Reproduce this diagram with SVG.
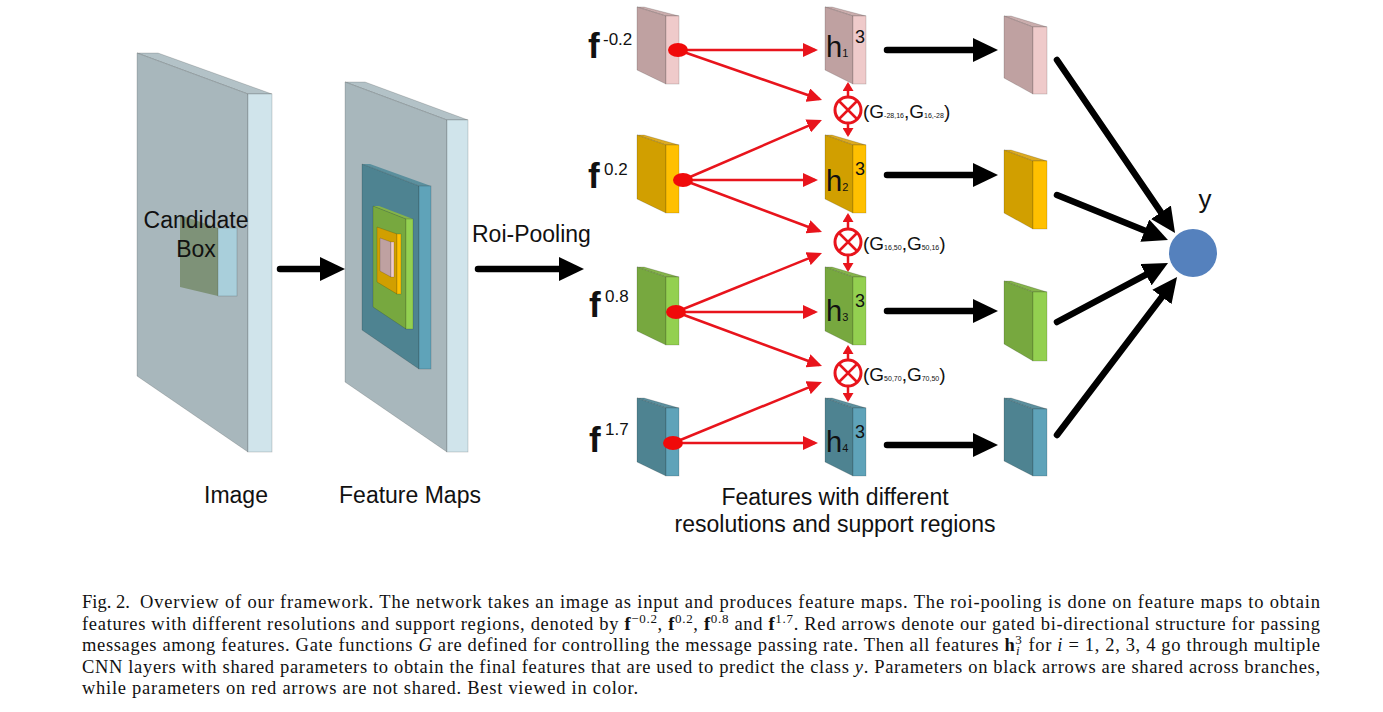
<svg xmlns="http://www.w3.org/2000/svg" width="1383" height="712" viewBox="0 0 1383 712">
<defs>
<style>
.lbl{font-family:"Liberation Sans",Arial,sans-serif;fill:#111}
.cap{font-family:"Liberation Serif","Times New Roman",serif;font-size:18.5px;fill:#111}
.edge{stroke:#000;stroke-opacity:0.22;stroke-width:0.7}
.blk{stroke:#000;stroke-width:6.5;stroke-linecap:round;fill:none}
.red{stroke:#e8141c;stroke-width:2.5;fill:none}
.dot{fill:#f00a0a}
.gate{fill:#fff;stroke:#e8141c;stroke-width:3}
.pkF{fill:#bfa1a1}.pkS{fill:#efcaca}.pkT{fill:#caadad}
.gdF{fill:#d19f00}.gdS{fill:#ffc000}.gdT{fill:#dcaa20}
.grF{fill:#77a83f}.grS{fill:#93d050}.grT{fill:#84b34a}
.tlF{fill:#4e8391}.tlS{fill:#5fa3b9}.tlT{fill:#5b8f9d}
.slF{fill:#a8b7bc}.slS{fill:#d0e4eb}.slT{fill:#b3c2c7}
</style>
<marker id="bh" markerUnits="userSpaceOnUse" viewBox="0 0 25 24" refX="15" refY="12" markerWidth="25" markerHeight="24" orient="auto"><path d="M0,0 L25,12 L0,24 Z" fill="#000"/></marker>
<marker id="rh" markerUnits="userSpaceOnUse" viewBox="0 0 15 14" refX="12" refY="7" markerWidth="15" markerHeight="14" orient="auto"><path d="M0,0 L15,7 L0,14 Z" fill="#e8141c"/></marker>
<marker id="rs" markerUnits="userSpaceOnUse" viewBox="0 0 9 11" refX="7" refY="5.5" markerWidth="9" markerHeight="11" orient="auto"><path d="M0,0 L9,5.5 L0,11 Z" fill="#e8141c"/></marker>
</defs>
<rect width="1383" height="712" fill="#fff"/>

<!-- Image slab -->
<g id="image">
<path class="slT edge" d="M137,53 L158,53 L272,94 L248,94 Z"/>
<path class="slF edge" d="M137,53 L248,94 L248,452 L137,376 Z"/>
<rect class="slS edge" x="248" y="94" width="24" height="358"/>
<g id="candidate-box">
<path d="M180,215 L218,228 L218,296 L180,287 Z" fill="#7e9278"/>
<rect x="218" y="228" width="19" height="68" fill="#a9cfdb" class="edge"/>
<text class="lbl" font-size="23" text-anchor="middle" x="196" y="228">Candidate</text>
<text class="lbl" font-size="23" text-anchor="middle" x="196" y="257">Box</text>
</g>
<text class="lbl" font-size="23" text-anchor="middle" x="236" y="503">Image</text>
</g>

<!-- Feature maps slab -->
<g id="feature-maps">
<path class="slT edge" d="M345,82 L365,82 L468,120 L447,120 Z"/>
<path class="slF edge" d="M345,82 L447,120 L447,452 L345,382 Z"/>
<rect class="slS edge" x="447" y="120" width="21" height="332"/>
<path class="tlT" d="M362,164 L370,164 L431,186 L419,186 Z"/>
<path class="tlF edge" d="M362,164 L419,186 L419,369 L362,330 Z"/>
<rect class="tlS edge" x="419" y="186" width="12" height="183"/>
<path class="grT" d="M373,206 L379,206 L413,219 L406,219 Z"/>
<path class="grF edge" d="M373,206 L406,219 L406,329 L373,307 Z"/>
<rect class="grS edge" x="406" y="219" width="7" height="110"/>
<path class="gdF edge" d="M377,227 L397,234 L397,294 L377,282 Z"/>
<rect class="gdS edge" x="397" y="234" width="4" height="60"/>
<path class="pkF edge" d="M380,238 L391,242 L391,277 L380,271 Z"/>
<rect class="pkS edge" x="391" y="242" width="3" height="35"/>
<text class="lbl" font-size="23" text-anchor="middle" x="410" y="503">Feature Maps</text>
</g>

<text class="lbl" font-size="23" x="472" y="242">Roi-Pooling</text>

<!-- f blocks -->
<g id="f-m02">
<path class="pkT edge" d="M637,7 L644,7 L679,16 L666,16 Z"/>
<path class="pkF edge" d="M637,7 L666,16 L666,84 L637,70 Z"/>
<rect class="pkS edge" x="666" y="16" width="13" height="68"/>
<text class="lbl" font-weight="bold" font-size="35" x="588" y="58">f</text>
<text class="lbl" font-size="17" x="603" y="45">-0.2</text>
</g>
<g id="f-02">
<path class="gdT edge" d="M637,135 L644,135 L679,145 L666,145 Z"/>
<path class="gdF edge" d="M637,135 L666,145 L666,213 L637,199 Z"/>
<rect class="gdS edge" x="666" y="145" width="13" height="68"/>
<text class="lbl" font-weight="bold" font-size="35" x="588" y="188">f</text>
<text class="lbl" font-size="17" x="604" y="175">0.2</text>
</g>
<g id="f-08">
<path class="grT edge" d="M637,267 L644,267 L679,277 L666,277 Z"/>
<path class="grF edge" d="M637,267 L666,277 L666,345 L637,331 Z"/>
<rect class="grS edge" x="666" y="277" width="13" height="68"/>
<text class="lbl" font-weight="bold" font-size="35" x="589" y="317">f</text>
<text class="lbl" font-size="17" x="605" y="302">0.8</text>
</g>
<g id="f-17">
<path class="tlT edge" d="M637,398 L644,398 L679,408 L666,408 Z"/>
<path class="tlF edge" d="M637,398 L666,408 L666,476 L637,462 Z"/>
<rect class="tlS edge" x="666" y="408" width="13" height="68"/>
<text class="lbl" font-weight="bold" font-size="35" x="589" y="452">f</text>
<text class="lbl" font-size="17" x="605" y="435">1.7</text>
</g>

<!-- connectors -->
<g id="connectors">
<line class="blk" x1="280" y1="269" x2="335" y2="269" marker-end="url(#bh)"/>
<line class="blk" x1="478" y1="269" x2="574" y2="269" marker-end="url(#bh)"/>
<line class="blk" x1="887" y1="50" x2="988" y2="50" marker-end="url(#bh)"/>
<line class="blk" x1="887" y1="175" x2="988" y2="175" marker-end="url(#bh)"/>
<line class="blk" x1="887" y1="311" x2="988" y2="311" marker-end="url(#bh)"/>
<line class="blk" x1="887" y1="445" x2="988" y2="445" marker-end="url(#bh)"/>
<line class="blk" x1="1057" y1="60" x2="1169.4" y2="224.7" marker-end="url(#bh)"/>
<line class="blk" x1="1057" y1="195" x2="1158.7" y2="236.2" marker-end="url(#bh)"/>
<line class="blk" x1="1057" y1="322" x2="1159.2" y2="267.7" marker-end="url(#bh)"/>
<line class="blk" x1="1057" y1="435" x2="1171" y2="285" marker-end="url(#bh)"/>

<line class="red" x1="678" y1="50" x2="815" y2="50" marker-end="url(#rh)"/>
<line class="red" x1="678" y1="50" x2="819.2" y2="99" marker-end="url(#rh)"/>
<line class="red" x1="683" y1="180" x2="819.2" y2="121.2" marker-end="url(#rh)"/>
<line class="red" x1="683" y1="180" x2="815" y2="180" marker-end="url(#rh)"/>
<line class="red" x1="683" y1="180" x2="819.2" y2="231" marker-end="url(#rh)"/>
<line class="red" x1="676" y1="312" x2="819.2" y2="254.1" marker-end="url(#rh)"/>
<line class="red" x1="676" y1="312" x2="815" y2="312" marker-end="url(#rh)"/>
<line class="red" x1="676" y1="312" x2="819.2" y2="365" marker-end="url(#rh)"/>
<line class="red" x1="673" y1="443" x2="819.2" y2="383.1" marker-end="url(#rh)"/>
<line class="red" x1="673" y1="443" x2="815" y2="443" marker-end="url(#rh)"/>

<line class="red" x1="848" y1="97" x2="848" y2="84" marker-end="url(#rs)"/>
<line class="red" x1="848" y1="123" x2="848" y2="135" marker-end="url(#rs)"/>
<line class="red" x1="848" y1="229" x2="848" y2="215" marker-end="url(#rs)"/>
<line class="red" x1="848" y1="255" x2="848" y2="270" marker-end="url(#rs)"/>
<line class="red" x1="848" y1="360" x2="848" y2="347" marker-end="url(#rs)"/>
<line class="red" x1="848" y1="386" x2="848" y2="400" marker-end="url(#rs)"/>
</g>

<!-- dots on f blocks -->
<g id="f-ports">
<ellipse class="dot" cx="678" cy="50" rx="10" ry="7"/>
<ellipse class="dot" cx="683" cy="180" rx="10" ry="7"/>
<ellipse class="dot" cx="676" cy="312" rx="10" ry="7"/>
<ellipse class="dot" cx="673" cy="443" rx="10" ry="7"/>
</g>

<!-- h blocks -->
<g id="h1">
<path class="pkT edge" d="M825,7 L832,7 L866,16 L853,16 Z"/>
<path class="pkF edge" d="M825,7 L853,16 L853,84 L825,70 Z"/>
<rect class="pkS edge" x="853" y="16" width="13" height="68"/>
<text class="lbl" font-size="29" x="826" y="57">h<tspan font-size="11">1</tspan></text>
<text class="lbl" font-size="18" x="855" y="43">3</text>
</g>
<g id="h2">
<path class="gdT edge" d="M825,135 L832,135 L866,145 L853,145 Z"/>
<path class="gdF edge" d="M825,135 L853,145 L853,213 L825,199 Z"/>
<rect class="gdS edge" x="853" y="145" width="13" height="68"/>
<text class="lbl" font-size="29" x="826" y="191">h<tspan font-size="11">2</tspan></text>
<text class="lbl" font-size="18" x="855" y="175">3</text>
</g>
<g id="h3">
<path class="grT edge" d="M825,267 L832,267 L866,277 L853,277 Z"/>
<path class="grF edge" d="M825,267 L853,277 L853,345 L825,331 Z"/>
<rect class="grS edge" x="853" y="277" width="13" height="68"/>
<text class="lbl" font-size="29" x="826" y="321">h<tspan font-size="11">3</tspan></text>
<text class="lbl" font-size="18" x="855" y="307">3</text>
</g>
<g id="h4">
<path class="tlT edge" d="M825,398 L832,398 L866,408 L853,408 Z"/>
<path class="tlF edge" d="M825,398 L853,408 L853,476 L825,462 Z"/>
<rect class="tlS edge" x="853" y="408" width="13" height="68"/>
<text class="lbl" font-size="29" x="826" y="452">h<tspan font-size="11">4</tspan></text>
<text class="lbl" font-size="18" x="855" y="438">3</text>
</g>

<!-- gates -->
<g id="gate1">
<circle class="gate" cx="848" cy="110" r="13"/>
<path class="red" stroke-width="3" d="M839,101 L857,119 M857,101 L839,119"/>
<text class="lbl" x="863" y="118" font-size="19">(G<tspan font-size="7">-28,16</tspan>,G<tspan font-size="7">16,-28</tspan>)</text>
</g>
<g id="gate2">
<circle class="gate" cx="848" cy="242" r="13"/>
<path class="red" stroke-width="3" d="M839,233 L857,251 M857,233 L839,251"/>
<text class="lbl" x="863" y="250" font-size="19">(G<tspan font-size="7">16,50</tspan>,G<tspan font-size="7">50,16</tspan>)</text>
</g>
<g id="gate3">
<circle class="gate" cx="848" cy="373" r="13"/>
<path class="red" stroke-width="3" d="M839,364 L857,382 M857,364 L839,382"/>
<text class="lbl" x="863" y="381" font-size="19">(G<tspan font-size="7">50,70</tspan>,G<tspan font-size="7">70,50</tspan>)</text>
</g>

<g id="features-label">
<text class="lbl" font-size="23" text-anchor="middle" x="835" y="505">Features with different</text>
<text class="lbl" font-size="23" text-anchor="middle" x="835" y="532">resolutions and support regions</text>
</g>

<!-- right blocks -->
<g id="r1">
<path class="pkT edge" d="M1004,16 L1011,16 L1047,27 L1033,27 Z"/>
<path class="pkF edge" d="M1004,16 L1033,27 L1033,94 L1004,78 Z"/>
<rect class="pkS edge" x="1033" y="27" width="14" height="67"/>
</g>
<g id="r2">
<path class="gdT edge" d="M1004,150 L1011,150 L1047,161 L1033,161 Z"/>
<path class="gdF edge" d="M1004,150 L1033,161 L1033,229 L1004,213 Z"/>
<rect class="gdS edge" x="1033" y="161" width="14" height="68"/>
</g>
<g id="r3">
<path class="grT edge" d="M1004,281 L1011,281 L1047,292 L1033,292 Z"/>
<path class="grF edge" d="M1004,281 L1033,292 L1033,361 L1004,344 Z"/>
<rect class="grS edge" x="1033" y="292" width="14" height="69"/>
</g>
<g id="r4">
<path class="tlT edge" d="M1004,398 L1011,398 L1047,409 L1033,409 Z"/>
<path class="tlF edge" d="M1004,398 L1033,409 L1033,476 L1004,461 Z"/>
<rect class="tlS edge" x="1033" y="409" width="14" height="67"/>
</g>

<g id="y-node">
<circle cx="1193" cy="253" r="24" fill="#5581bd"/>
<text class="lbl" font-size="26" text-anchor="middle" x="1205" y="208">y</text>
</g>

<g id="caption" class="cap">
<text x="82" y="608">Fig. 2.</text>
<text x="140" y="608" textLength="1180" lengthAdjust="spacing">Overview of our framework. The network takes an image as input and produces feature maps. The roi-pooling is done on feature maps to obtain</text>
<text x="82" y="629.5" textLength="1238" lengthAdjust="spacing">features with different resolutions and support regions, denoted by <tspan font-weight="bold">f</tspan><tspan font-size="13" dy="-7">−0.2</tspan><tspan dy="7">, </tspan><tspan font-weight="bold">f</tspan><tspan font-size="13" dy="-7">0.2</tspan><tspan dy="7">, </tspan><tspan font-weight="bold">f</tspan><tspan font-size="13" dy="-7">0.8</tspan><tspan dy="7"> and </tspan><tspan font-weight="bold">f</tspan><tspan font-size="13" dy="-7">1.7</tspan><tspan dy="7">. Red arrows denote our gated bi-directional structure for passing</tspan></text>
<text x="82" y="651" textLength="1238" lengthAdjust="spacing">messages among features. Gate functions <tspan font-style="italic">G</tspan> are defined for controlling the message passing rate. Then all features <tspan font-weight="bold">h</tspan><tspan font-size="13" dy="-7">3</tspan><tspan font-size="13" font-style="italic" dx="-6.5" dy="11">i</tspan><tspan dy="-4" dx="3"> for </tspan><tspan font-style="italic">i</tspan> = 1, 2, 3, 4 go through multiple</text>
<text x="82" y="672.5" textLength="1238" lengthAdjust="spacing">CNN layers with shared parameters to obtain the final features that are used to predict the class <tspan font-style="italic">y</tspan>. Parameters on black arrows are shared across branches,</text>
<text x="82" y="694" textLength="556" lengthAdjust="spacing">while parameters on red arrows are not shared. Best viewed in color.</text>
</g>
</svg>
